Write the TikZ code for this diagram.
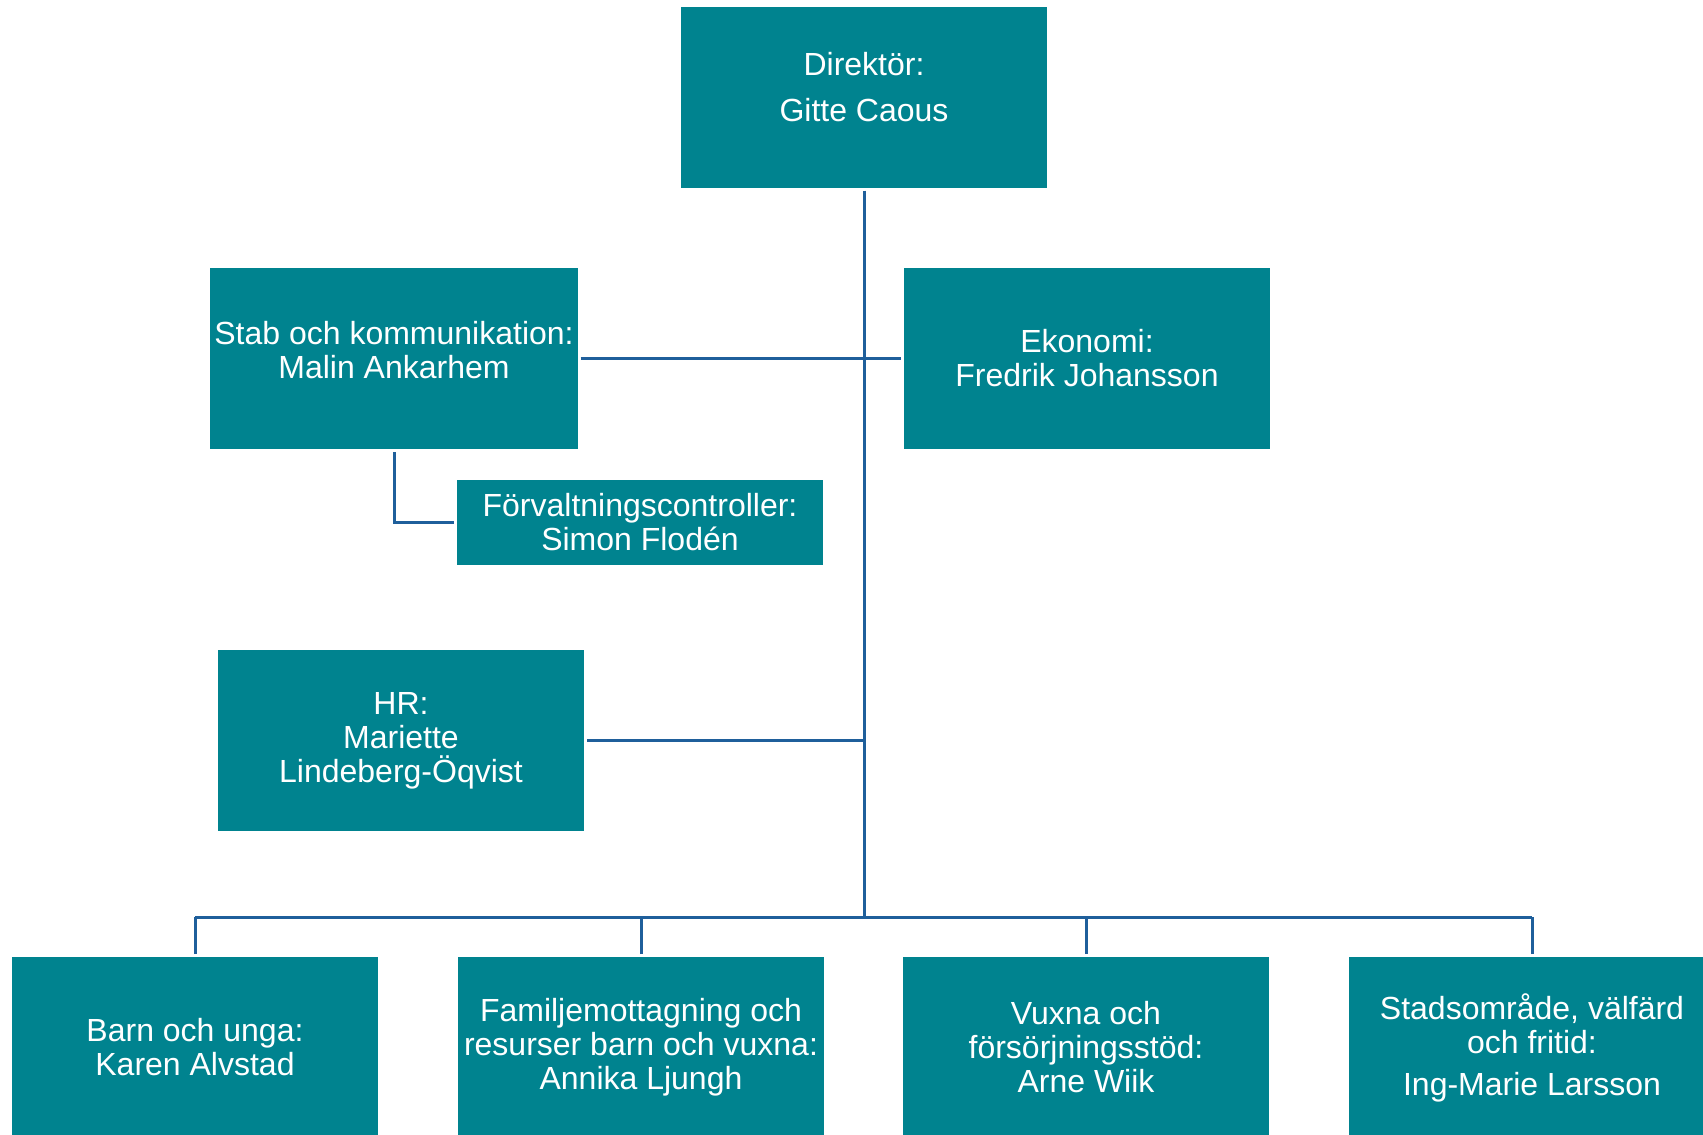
\documentclass[tikz,border=0pt]{standalone}
\usepackage{fontspec}
\setmainfont{Liberation Sans}
\usepackage{tikz}
\usetikzlibrary{positioning}

\definecolor{boxteal}{RGB}{0,131,143}
\definecolor{linkblue}{RGB}{31,95,155}

\begin{document}
\begin{tikzpicture}[x=0.5pt, y=-0.5pt,
    orgbox/.style={fill=boxteal, text=white, align=center, minimum width=183pt, minimum height=90.5pt, inner sep=2pt, outer sep=1.5pt, font=\fontsize{16}{17}\selectfont},
    smallbox/.style={orgbox, minimum height=42.5pt},
    link/.style={draw=linkblue, line width=1.5pt}]
    \useasboundingbox (0,0) rectangle (1703,1135);

    % Director
    \node[orgbox] (dir) at (864,97) {Direktör:\\[6pt]Gitte Caous\\[-7pt]};

    % Staff functions
    \node[orgbox] (stab) at (394,358.5) {Stab och kommunikation:\\Malin Ankarhem\\[-8.3pt]};
    \node[orgbox] (eko) at (1087,358.5) {Ekonomi:\\Fredrik Johansson};
    \node[smallbox] (ctrl) at (640,522.5) {Förvaltningscontroller:\\Simon Flodén};
    \node[orgbox] (hr) at (401,740.5) {HR:\\Mariette\\Lindeberg-Öqvist};

    % Departments
    \node[orgbox] (barn) at (195,1047.5) {Barn och unga:\\Karen Alvstad};
    \node[orgbox] (fam) at (641,1047.5) {Familjemottagning och\\resurser barn och vuxna:\\Annika Ljungh};
    \node[orgbox] (vux) at (1086,1047.5) {Vuxna och\\försörjningsstöd:\\Arne Wiik};
    \node[orgbox] (stad) at (1532,1047.5) {Stadsområde, välfärd\\och fritid:\\[4pt]Ing-Marie Larsson};

    % Connectors
    \coordinate (bus) at (864,917);
    \draw[link] (dir.south) -- (bus);
    \draw[link] (stab.east) -- (eko.west);
    \draw[link] (stab.south) |- (ctrl.west);
    \draw[link] (hr.east) -- (hr.east -| bus);
    \draw[link] (barn.north |- bus) -- (stad.north |- bus);
    \foreach \d in {barn, fam, vux, stad}
      \draw[link] (\d.north) -- (\d.north |- bus);
\end{tikzpicture}
\end{document}
